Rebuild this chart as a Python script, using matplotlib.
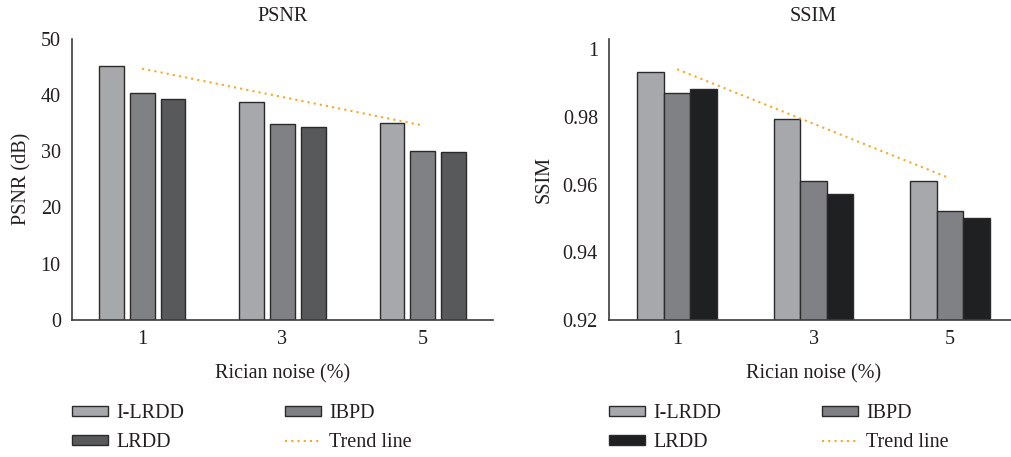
import numpy as np
import matplotlib
matplotlib.use('Agg')
import matplotlib.pyplot as plt

# Data
noise_levels = ['1', '3', '5']
methods = ['I-LRDD', 'IBPD', 'LRDD']
psnr_ilrdd = [45.1, 38.8, 35.0]
psnr_ibpd = [40.4, 34.8, 30.1]
psnr_lrdd = [39.3, 34.3, 29.8]
ssim_ilrdd = [0.9934, 0.9793, 0.9612]
ssim_ibpd = [0.9872, 0.9612, 0.9521]
ssim_lrdd = [0.9883, 0.9572, 0.9501]

TEXT = '#231f20'
SPINE = '#3c3c3c'
EDGE = '#2a2a2a'
TREND = '#f7a823'
FS = 14.5

plt.rcParams['font.family'] = ['Liberation Serif', 'DejaVu Serif']
plt.rcParams['font.size'] = FS
plt.rcParams['text.color'] = TEXT
plt.rcParams['axes.labelcolor'] = TEXT
plt.rcParams['xtick.color'] = TEXT
plt.rcParams['ytick.color'] = TEXT


def draw_panel(ax, series, colors, width, step, ylim, yticks, yticklabels, title, ylabel):
    x = np.arange(len(noise_levels))
    handles = []
    for i, (vals, col) in enumerate(zip(series, colors)):
        b = ax.bar(x + (i - 1) * step, vals, width, color=col, edgecolor=EDGE,
                   linewidth=1.0, label=methods[i], zorder=2)
        handles.append(b)
    # linear trend of the first method
    k, c = np.polyfit(x, series[0], 1)
    tl, = ax.plot(x, k * x + c, color=TREND, linestyle=(0, (1, 2)), linewidth=1.5,
                  zorder=3, label='Trend line')
    ax.set_xlim(-0.5, 2.5)
    ax.set_ylim(*ylim)
    ax.set_yticks(yticks)
    ax.set_yticklabels(yticklabels)
    ax.set_xticks(x)
    ax.set_xticklabels(noise_levels)
    ax.tick_params(axis='both', length=0, labelsize=FS)
    ax.tick_params(axis='x', pad=7)
    ax.tick_params(axis='y', pad=8)
    for s in ['top', 'right']:
        ax.spines[s].set_visible(False)
    for s in ['left', 'bottom']:
        ax.spines[s].set_color(SPINE)
        ax.spines[s].set_linewidth(1.2)
    ax.set_title(title, fontsize=FS, pad=13)
    ax.set_xlabel('Rician noise (%)', fontsize=FS, labelpad=11)
    ax.set_ylabel(ylabel, fontsize=FS)
    return handles, tl


fig = plt.figure(figsize=(10.12, 4.57), dpi=100)
ax1 = fig.add_axes([0.0711, 0.2998, 0.4161, 0.6155])
ax2 = fig.add_axes([0.6018, 0.2998, 0.4042, 0.6155])

h1, t1 = draw_panel(ax1, [psnr_ilrdd, psnr_ibpd, psnr_lrdd],
                    ['#a7a8ab', '#808184', '#58595b'], 0.177, 0.22,
                    (0, 50), [0, 10, 20, 30, 40, 50],
                    ['0', '10', '20', '30', '40', '50'], 'PSNR', 'PSNR (dB)')
h2, t2 = draw_panel(ax2, [ssim_ilrdd, ssim_ibpd, ssim_lrdd],
                    ['#a7a8ab', '#808184', '#1f2022'], 0.195, 0.195,
                    (0.92, 1.0031), [0.92, 0.94, 0.96, 0.98, 1.0],
                    ['0.92', '0.94', '0.96', '0.98', '1'], 'SSIM', 'SSIM')
ax1.yaxis.set_label_coords(-0.097, 0.5)
ax2.yaxis.set_label_coords(-0.135, 0.5)

for h, t, x0 in [(h1, t1, 72 / 1012), (h2, t2, 609 / 1012)]:
    fig.legend([h[0], h[2], h[1], t], ['I-LRDD', 'LRDD', 'IBPD', 'Trend line'],
               loc='upper left', bbox_to_anchor=(x0, 1 - 404 / 457), ncol=2,
               frameon=False, borderpad=0, borderaxespad=0, handlelength=1.8,
               handleheight=0.4, handletextpad=0.4, columnspacing=5.0,
               labelspacing=0.5, fontsize=FS)

fig.savefig('out.png', dpi=100)
